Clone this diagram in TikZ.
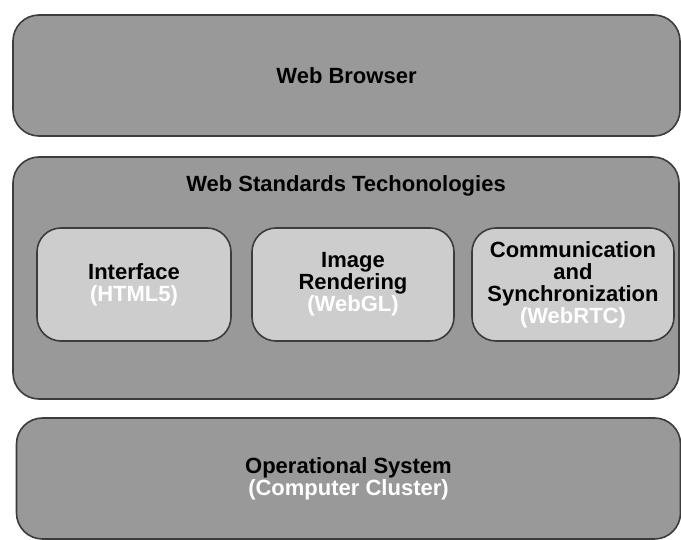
\documentclass[tikz,border=0pt]{standalone}
\usepackage{fontspec}
\setmainfont{Liberation Sans}
\begin{document}
\begin{tikzpicture}[x=1pt,y=-1pt,
  layer/.style={draw=edgegray, line width=1.6pt, fill=outergray, rounded corners=26pt, inner sep=0pt},
  module/.style={draw=edgegray, line width=1.6pt, fill=innergray, rounded corners=24pt, inner sep=0pt},
  lbl/.style={font=\fontsize{22}{22}\selectfont\bfseries, align=center, text=black, inner sep=0pt}
]
\definecolor{outergray}{HTML}{999999}
\definecolor{innergray}{HTML}{CDCDCD}
\definecolor{edgegray}{HTML}{3C3C3C}
\useasboundingbox[fill=white] (0,0) rectangle (681,540);
% top layer
\node[layer, minimum width=667pt, minimum height=121pt] (browser) at (346.5,75.5) {};
\node[lbl] (browsertxt) at (browser.center) {Web Browser};
% middle layer
\node[layer, minimum width=666pt, minimum height=242pt] (standards) at (346,278) {};
\node[lbl] (standardstxt) at (346,186) {Web Standards Techonologies};
% modules
\node[module, minimum width=194pt, minimum height=113pt] (iface) at (134,284.5) {};
\node[lbl] (ifacetxt) at (iface.center) {Interface\\\textcolor{white}{(HTML5)}};
\node[module, minimum width=202pt, minimum height=113pt] (render) at (353,284.5) {};
\node[lbl] (rendertxt) at (render.center) {Image\\Rendering\\\textcolor{white}{(WebGL)}};
\node[module, minimum width=202pt, minimum height=113pt] (comm) at (573,284.5) {};
\node[lbl] (commtxt) at (comm.center) {Communication\\and\\Synchronization\\\textcolor{white}{(WebRTC)}};
% bottom layer
\node[layer, minimum width=664pt, minimum height=121pt] (os) at (348.5,478.5) {};
\node[lbl] (ostxt) at (os.center) {Operational System\\\textcolor{white}{(Computer Cluster)}};
\end{tikzpicture}
\end{document}
